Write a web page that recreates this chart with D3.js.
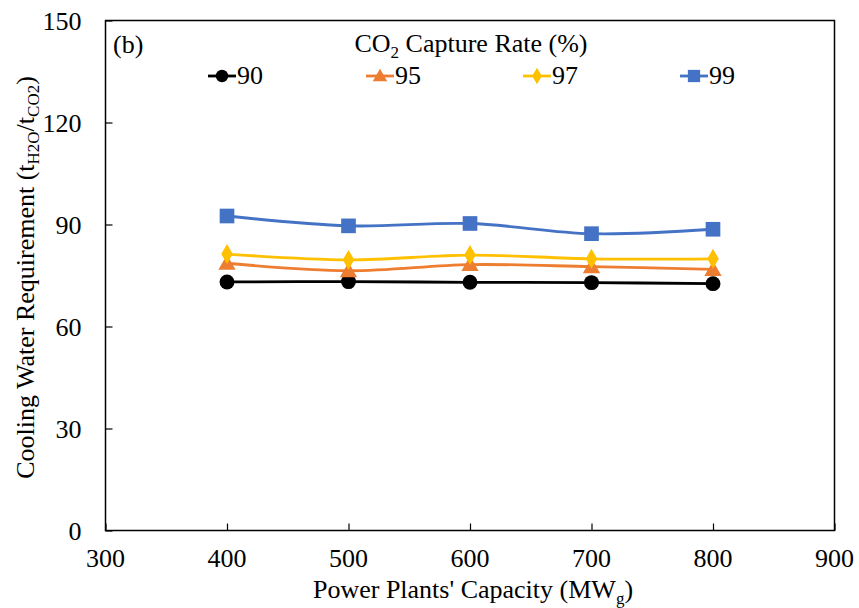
<!DOCTYPE html>
<html>
<head>
<meta charset="utf-8">
<script src="https://cdn.jsdelivr.net/npm/d3@7"></script>
<style>
  html, body { margin: 0; padding: 0; background: #fff; }
</style>
</head>
<body>
<svg id="chart" width="859" height="608" font-family="'Liberation Serif', 'Times New Roman', Times, serif"></svg>
<script>
// Power plant capacities (MWg)
const capacities = [400, 500, 600, 700, 800];
// Cooling water requirement (tH2O/tCO2) per capture rate
const rate90 = [73.1, 73.2, 73.0, 72.9, 72.6];
const rate95 = [78.6, 76.4, 78.2, 77.6, 76.8];
const rate97 = [81.3, 79.6, 81.0, 79.9, 79.9];
const rate99 = [92.5, 89.6, 90.3, 87.3, 88.6];
const seriesNames = ["90", "95", "97", "99"];
const xTicks = [300, 400, 500, 600, 700, 800, 900];
const yTicks = [0, 30, 60, 90, 120, 150];

const series = [
  { name: seriesNames[0], values: rate90, color: "#000000", shape: "circle" },
  { name: seriesNames[1], values: rate95, color: "#ED7D31", shape: "triangle" },
  { name: seriesNames[2], values: rate97, color: "#FFC000", shape: "diamond" },
  { name: seriesNames[3], values: rate99, color: "#4472C4", shape: "square" }
];

const svg = d3.select("#chart");
const plotL = 105.5, plotR = 834.5, plotT = 20.5, plotB = 530.5;
const FS = 26, SUB = 17;

const x = d3.scaleLinear().domain([300, 900]).range([plotL, plotR]);
const y = d3.scaleLinear().domain([0, 150]).range([plotB, plotT]);

// frame
svg.append("rect")
  .attr("x", plotL).attr("y", plotT)
  .attr("width", plotR - plotL).attr("height", plotB - plotT)
  .attr("fill", "none").attr("stroke", "#000").attr("stroke-width", 1.5);

// x axis (ticks pointing inward)
const xAxis = svg.append("g").attr("transform", `translate(0,${plotB})`)
  .call(d3.axisTop(x).tickValues(xTicks).tickSize(7).tickFormat(""));
xAxis.select(".domain").remove();
xAxis.selectAll("line").attr("stroke", "#000").attr("stroke-width", 1.2);
svg.append("g").selectAll("text").data(xTicks).join("text")
  .attr("x", d => x(d)).attr("y", plotB + 36)
  .attr("text-anchor", "middle").attr("font-size", FS)
  .text(d => d);

// y axis (ticks pointing inward)
const yAxis = svg.append("g").attr("transform", `translate(${plotL},0)`)
  .call(d3.axisRight(y).tickValues(yTicks).tickSize(7).tickFormat(""));
yAxis.select(".domain").remove();
yAxis.selectAll("line").attr("stroke", "#000").attr("stroke-width", 1.2);
svg.append("g").selectAll("text").data(yTicks).join("text")
  .attr("x", plotL - 24).attr("y", d => y(d) + 9)
  .attr("text-anchor", "end").attr("font-size", FS)
  .text(d => d);

// axis titles
const xt = svg.append("text").attr("x", 473).attr("y", 598)
  .attr("text-anchor", "middle").attr("font-size", FS);
xt.append("tspan").text("Power Plants' Capacity (MW");
xt.append("tspan").attr("font-size", SUB).attr("dy", 6).text("g");
xt.append("tspan").attr("dy", -6).text(")");

const yt = svg.append("text")
  .attr("transform", `translate(34,${(plotT + plotB) / 2 + 2}) rotate(-90)`)
  .attr("text-anchor", "middle").attr("font-size", FS);
yt.append("tspan").text("Cooling Water Requirement (t");
yt.append("tspan").attr("font-size", SUB).attr("dy", 5).text("H2O");
yt.append("tspan").attr("dy", -5).text("/t");
yt.append("tspan").attr("font-size", SUB).attr("dy", 5).text("CO2");
yt.append("tspan").attr("dy", -5).text(")");

// panel label
svg.append("text").attr("x", 113).attr("y", 53).attr("font-size", FS).text("(b)");

// legend title
const lt = svg.append("text").attr("x", 471).attr("y", 52)
  .attr("text-anchor", "middle").attr("font-size", FS);
lt.append("tspan").text("CO");
lt.append("tspan").attr("font-size", SUB).attr("dy", 6).text("2");
lt.append("tspan").attr("dy", -6).text(" Capture Rate (%)");

function symbolFor(shape, size) {
  const types = { circle: d3.symbolCircle, triangle: d3.symbolTriangle, diamond: d3.symbolDiamond, square: d3.symbolSquare };
  return d3.symbol().type(types[shape]).size(size)();
}
const markerSize = { circle: 175, triangle: 130, diamond: 115, square: 215 };

// lines
const line = d3.line()
  .x((d, i) => x(capacities[i]))
  .y(d => y(d))
  .curve(d3.curveCatmullRom.alpha(0.5));

series.forEach(s => {
  svg.append("path").datum(s.values)
    .attr("d", line).attr("fill", "none")
    .attr("stroke", s.color).attr("stroke-width", 2.8);
  svg.append("g").selectAll("path").data(s.values).join("path")
    .attr("transform", (d, i) => `translate(${x(capacities[i])},${y(d) + (s.shape === "triangle" ? 1.5 : 0)})`)
    .attr("d", symbolFor(s.shape, markerSize[s.shape]))
    .attr("fill", s.color);
});

// legend entries
const legendX = [208, 366, 523, 680];
series.forEach((s, i) => {
  const g = svg.append("g").attr("transform", `translate(${legendX[i]},76)`);
  g.append("line").attr("x1", 0).attr("x2", 28).attr("y1", 0).attr("y2", 0)
    .attr("stroke", s.color).attr("stroke-width", 2.8);
  g.append("path").attr("transform", `translate(14,${s.shape === "triangle" ? 1 : 0})`)
    .attr("d", symbolFor(s.shape, markerSize[s.shape] * 0.7)).attr("fill", s.color);
  g.append("text").attr("x", 29).attr("y", 8).attr("font-size", FS).text(s.name);
});
</script>
</body>
</html>
